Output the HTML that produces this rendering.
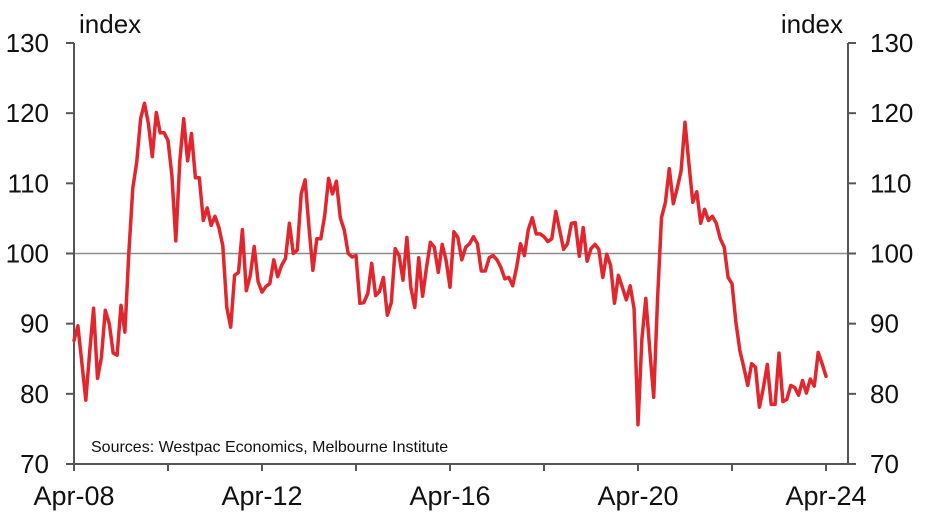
<!DOCTYPE html>
<html><head><meta charset="utf-8"><style>
html,body{margin:0;padding:0;background:#fff;}
svg{display:block;font-family:"Liberation Sans",Arial,sans-serif;}
</style></head><body>
<svg id="chart" width="929" height="521" viewBox="0 0 929 521" xmlns="http://www.w3.org/2000/svg">
<g id="axes"></g>
<text x="79" y="33" font-size="26" fill="#111">index</text>
<text x="843" y="33" font-size="26" fill="#111" text-anchor="end">index</text>
<text x="91" y="452" font-size="16" fill="#111">Sources: Westpac Economics, Melbourne Institute</text>
<path id="series" fill="none" stroke="#e1262d" stroke-width="3.5" stroke-linejoin="round" stroke-linecap="round"></path>
</svg>
<script>
const yTicks=[70,80,90,100,110,120,130];
const xLabels=["Apr-08","Apr-12","Apr-16","Apr-20","Apr-24"];
const xLabelMonths=[0,48,96,144,192];
const values=[87.6,89.7,84.5,79.1,86,92.2,82.2,85.2,91.9,90,85.8,85.5,92.6,88.8,100,109.3,113,119.2,121.4,118.5,113.8,120.1,117.2,117.2,116.1,111.1,101.8,113.2,119.2,113.2,117.1,110.8,110.8,104.7,106.5,104,105.3,103.7,101.1,92.3,89.5,96.9,97.3,103.4,94.7,96.9,101,96,94.5,95.3,95.7,99.1,96.7,98.3,99.3,104.3,100,100.5,108.5,110.5,103.7,97.6,102.1,102.1,105.4,110.7,108.5,110.3,105.1,103.3,100,99.5,99.7,92.9,93,94.3,98.6,94,94.6,96.6,91.2,93,100.7,99.7,96.2,102.3,95.2,92.3,99.4,93.9,98,101.6,100.9,97.3,101.3,99,95.2,103.1,102.3,99.1,100.9,101.4,102.4,101.4,97.5,97.5,99.4,99.7,99.1,98,96.4,96.6,95.4,98,101.4,99.7,103.4,105.1,102.8,102.8,102.4,101.7,102.1,106,103.3,100.6,101.4,104.3,104.4,99.6,103.7,98.9,100.7,101.3,100.6,96.6,99.9,98.3,92.9,96.9,95.2,93.4,95.4,92.1,75.6,87.8,93.6,86.2,79.5,93.7,105.1,107.3,112.1,107.1,109.3,111.8,118.7,112.8,107.3,108.8,104.3,106.3,104.7,105.3,104.3,102.1,100.9,96.6,95.7,90.2,86.2,83.8,81.2,84.3,83.8,78.1,80.8,84.2,78.5,78.5,85.8,78.9,79.2,81.2,80.9,79.8,81.9,80.1,82.1,81.1,85.9,84.3,82.5];

const L=74,R=848,T=43,B=464,X0=74,X1=826;
function xs(m){return X0+m*(X1-X0)/192;}
function ys(v){return B-(v-70)*(B-T)/60;}
const NS="http://www.w3.org/2000/svg";
const g=document.getElementById('axes');
function mk(tag,attrs){const e=document.createElementNS(NS,tag);for(const k in attrs)e.setAttribute(k,attrs[k]);g.appendChild(e);return e;}
let e;
e=mk('line',{x1:L,y1:ys(100),x2:R,y2:ys(100),stroke:'#8c8c8c','stroke-width':1.5});


e=mk('line',{x1:L,y1:T,x2:L,y2:B,stroke:'#555','stroke-width':2});


e=mk('line',{x1:R,y1:T,x2:R,y2:B,stroke:'#555','stroke-width':2});


e=mk('line',{x1:L-8,y1:B,x2:R+8,y2:B,stroke:'#555','stroke-width':2});


yTicks.forEach(v=>{
  const y=ys(v);
  e=mk('line',{x1:L-8,y1:y,x2:L,y2:y,stroke:'#555','stroke-width':2});
  
  
  e=mk('line',{x1:R,y1:y,x2:R+8,y2:y,stroke:'#555','stroke-width':2});
  
  
  e=mk('text',{x:49,y:y+9,'font-size':26,'text-anchor':'end',fill:'#111'});
  e.textContent=v;
  
  
  e=mk('text',{x:870,y:y+9,'font-size':26,fill:'#111'});
  e.textContent=v;
  
  
});
for(let m=0;m<=192;m+=24){
  e=mk('line',{x1:xs(m),y1:B,x2:xs(m),y2:B+7,stroke:'#555','stroke-width':2});
  
  
}
xLabels.forEach((s,i)=>{
  e=mk('text',{x:xs(xLabelMonths[i]),y:505,'font-size':27,'text-anchor':'middle',fill:'#111'});
  e.textContent=s;
  
  
});
document.getElementById('series').setAttribute('d',values.map((v,i)=>(i?'L':'M')+xs(i).toFixed(1)+' '+ys(v).toFixed(1)).join(' '));
</script>
</body></html>
